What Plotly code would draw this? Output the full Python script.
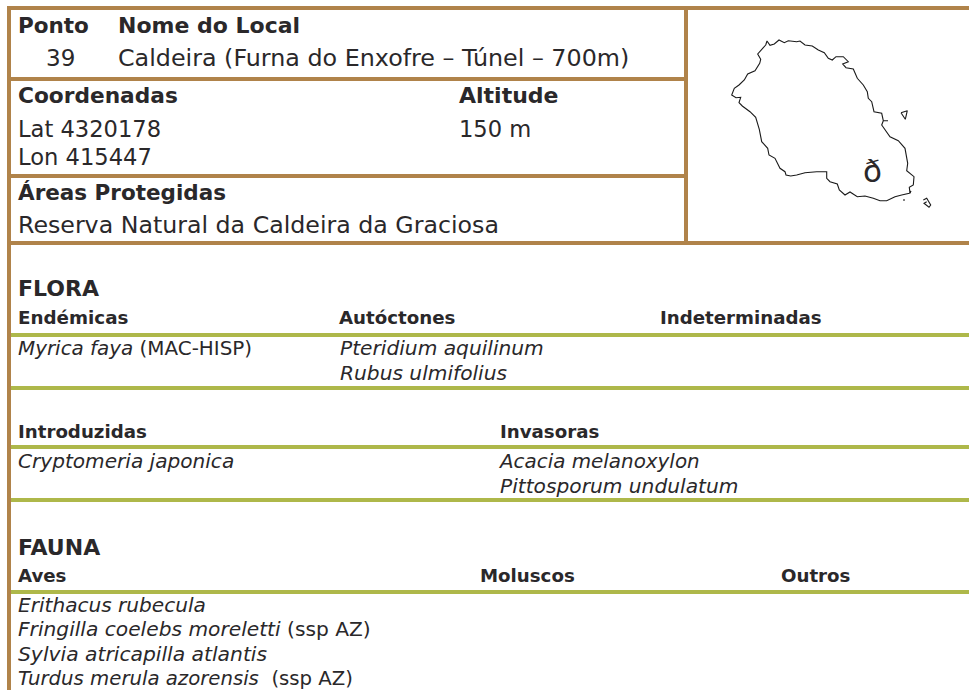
import plotly.graph_objects as go

BROWN = "#B0834A"
GREEN = "#AEB84A"
INK = "#2a282a"
FONT = "DejaVu Sans"

# Map outline of the island (in page pixels)
island_x = [765.7,767,770,774.3,779,784.3,788.3,796.7,800,805,812.3,818.3,824.3,828.3,832.3,836,843.3,848.3,842.7,846,853.3,857.3,863.3,867.3,868.3,871.7,874,881.7,883.3,888,883.3,881.7,885,890,898.3,905,907.7,906.7,914,913.3,909.3,910,911,909.3,901.7,895,886.7,880,873.3,865,857.3,850,845,839.3,837.3,830,826.7,826.7,816.7,805,796.7,790.7,786,785,780,775,769,767.7,761.7,760,759.3,755.7,750,742.3,739,740.7,736,731.7,734.3,739,744.3,747.7,755,759.7,760.7,757.7,762.3,765.7]
island_y = [45,41,45.3,44,40,42.7,40.7,41.7,41,45,46,50,52.7,58.3,60,56.7,56.7,61.7,64,67.7,69,78.3,85,91.7,98.3,101.7,111.7,113.3,120.7,120.7,120.7,125,130,136.7,140.7,148.3,163.3,170.7,176.7,185,187.3,193.3,191,193.3,195,196.7,200.7,200.7,198.3,196,196.7,192,195,190,184,181.7,178.3,171.7,171.7,172.7,175,176,175,171.7,168.3,158.3,155,148.3,141.7,131.7,129.3,117.3,111.7,106,102.7,97.3,97.7,95,88.3,85,80,74,70.7,63.3,59.3,54,48.3,45]
islet1_x = [901,907.3,905.3,901]
islet1_y = [112.7,110.7,119.3,112.7]
islet2_x = [923.3,926.7,930.7,929,924,926.7]
islet2_y = [200,198.3,205,207.3,203.3,201.7]
rock_x = [904,904]
rock_y = [199,201]

# Page furniture
brown_rules = [(7,8,969,8),(9,79,686,79),(9,176,686,176),(7,243,969,243),(686,8,686,243),(9,8,9,690)]
green_rules_y = [335,388,447,500,592]

# Texts: (x, y, string, size, bold)
texts = [
 (16,25,"Ponto",21.5,True),(116,25,"Nome do Local",22,True),
 (44,58,"39",23,False),(116,58,"Caldeira (Furna do Enxofre – Túnel – 700m)",23.8,False),
 (16,95,"Coordenadas",21.7,True),(457,95,"Altitude",22,True),
 (16,129,"Lat 4320178",22.6,False),(457,129,"150 m",22.6,False),
 (16,157,"Lon 415447",22.6,False),
 (16,192,"Áreas Protegidas",21.5,True),
 (16,225,"Reserva Natural da Caldeira da Graciosa",23.7,False),
 (16,288,"FLORA",22,True),
 (16,317,"Endémicas",18.3,True),(337,317,"Autóctones",18.2,True),(658,317,"Indeterminadas",18.2,True),
 (16,348,"<i>Myrica faya</i> (MAC-HISP)",19.9,False),(338,348,"<i>Pteridium aquilinum</i>",20.2,False),
 (338,373,"<i>Rubus ulmifolius</i>",20.2,False),
 (16,431,"Introduzidas",18.2,True),(498,431,"Invasoras",18.2,True),
 (16,461,"<i>Cryptomeria japonica</i>",20.1,False),(496,461,"<i>Acacia melanoxylon</i>",19.9,False),
 (498,486,"<i>Pittosporum undulatum</i>",20.2,False),
 (16,547,"FAUNA",22,True),
 (16,575,"Aves",18.2,True),(478,575,"Moluscos",18.2,True),(779,575,"Outros",18.2,True),
 (16,605,"<i>Erithacus rubecula</i>",20.1,False),
 (16,629,"<i>Fringilla coelebs moreletti</i> (ssp AZ)",20.2,False),
 (16,654,"<i>Sylvia atricapilla atlantis</i>",20.3,False),
 (16,678,"<i>Turdus merula azorensis</i>  (ssp AZ)",19.7,False),
]

fig = go.Figure()
for xs, ys in [(island_x,island_y),(islet1_x,islet1_y),(islet2_x,islet2_y),(rock_x,rock_y)]:
    fig.add_trace(go.Scatter(x=xs,y=ys,mode="lines",line=dict(color="#1a1a1a",width=1.1),hoverinfo="skip",showlegend=False))

shapes = [dict(type="line",x0=a,y0=b,x1=c,y1=d,line=dict(color=BROWN,width=4)) for a,b,c,d in brown_rules]
shapes += [dict(type="line",x0=11,y0=y,x1=969,y1=y,line=dict(color=GREEN,width=4)) for y in green_rules_y]

ann = [dict(x=x,y=y,text=f"<b>{s}</b>" if b else s,xanchor="left",yanchor="middle",showarrow=False,
            font=dict(family=FONT,size=z,color=INK)) for x,y,s,z,b in texts]
ann.append(dict(x=872,y=171,text="ð",xanchor="center",yanchor="middle",showarrow=False,font=dict(family=FONT,size=31,color=INK)))

fig.update_layout(width=969,height=690,margin=dict(l=0,r=0,t=0,b=0),autosize=False,
    paper_bgcolor="white",plot_bgcolor="white",shapes=shapes,annotations=ann,
    xaxis=dict(range=[0,969],visible=False,fixedrange=True),
    yaxis=dict(range=[690,0],visible=False,fixedrange=True))
fig.write_html("out.html",config=dict(displayModeBar=False),
               post_script="document.body.style.margin='0';document.body.style.overflow='hidden';")
